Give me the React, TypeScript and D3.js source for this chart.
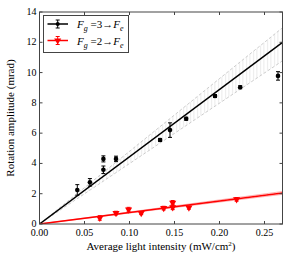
import React from "react";
import * as d3 from "d3";

const blackX = [0.042, 0.056, 0.071, 0.071, 0.085, 0.134, 0.145, 0.163, 0.195, 0.223, 0.265];
const blackY = [2.25, 2.75, 4.3, 3.58, 4.3, 5.55, 6.2, 6.95, 8.45, 9.03, 9.78];
const blackErr = [0.35, 0.25, 0.2, 0.25, 0.18, 0.1, 0.48, 0.1, 0.1, 0.1, 0.28];

const redX = [0.067, 0.085, 0.099, 0.113, 0.138, 0.148, 0.148, 0.166, 0.219];
const redY = [0.4, 0.72, 0.95, 0.72, 1.05, 1.4, 1.1, 1.08, 1.63];
const redErr = [0.15, 0.12, 0.15, 0.1, 0.12, 0.15, 0.15, 0.1, 0.12];

const blackSlope = 44.4;
const blackSlopeLo = 39.9;
const blackSlopeHi = 48.0;
const redSlope = 7.6;
const redSlopeLo = 7.25;
const redSlopeHi = 7.95;

const xTicks = [0.0, 0.05, 0.1, 0.15, 0.2, 0.25];
const yTicks = [0, 2, 4, 6, 8, 10, 12, 14];

const W = 299, H = 260;
const L = 39.5, R = 282.5, T = 12, B = 224;

export default function App() {
  const x = d3.scaleLinear().domain([0, 0.27]).range([L, R]);
  const y = d3.scaleLinear().domain([0, 14]).range([B, T]);
  const xs = [0, 0.27];
  const line = (s: number) => d3.line<number>().x((d) => x(d)).y((d) => y(s * d))(xs) as string;
  const band = (lo: number, hi: number) =>
    `M${x(0)},${y(0)}L${x(0.27)},${y(hi * 0.27)}L${x(0.27)},${y(lo * 0.27)}Z`;
  const tri = d3.symbol().type(d3.symbolTriangle).size(22)();
  const font = "'Liberation Serif', 'Times New Roman', Times, serif";
  const cap = 2;

  const errbar = (cx: number, cy: number, e: number, color: string, key: string) => (
    <g key={key} stroke={color} strokeWidth={1}>
      <line x1={cx} x2={cx} y1={cy - e} y2={cy + e} />
      <line x1={cx - cap} x2={cx + cap} y1={cy - e} y2={cy - e} />
      <line x1={cx - cap} x2={cx + cap} y1={cy + e} y2={cy + e} />
    </g>
  );

  const legendLabel = (n: string, yy: number) => (
    <text x={77} y={yy + 4} style={{ fontFamily: font }} fontSize={11}>
      <tspan fontStyle="italic">F</tspan>
      <tspan fontStyle="italic" fontSize={8} dy={3}>g</tspan>
      <tspan dy={-3}> ={n}→</tspan>
      <tspan fontStyle="italic">F</tspan>
      <tspan fontStyle="italic" fontSize={8} dy={3}>e</tspan>
    </text>
  );

  return (
    <svg width={W} height={H} style={{ position: "fixed", left: 0, top: 0, background: "#fff", fontFamily: font }}>
      <defs>
        <pattern id="hatch" width={3.5} height={6} patternUnits="userSpaceOnUse">
          <line x1={1.5} x2={1.5} y1={0} y2={6} stroke="#d8d8d8" strokeWidth={0.6} />
        </pattern>
        <pattern id="hatchR" width={3.5} height={6} patternUnits="userSpaceOnUse">
          <line x1={1.5} x2={1.5} y1={0} y2={6} stroke="#ffbcbc" strokeWidth={0.6} />
        </pattern>
        <clipPath id="plot">
          <rect x={L} y={T} width={R - L} height={B - T} />
        </clipPath>
      </defs>
      <g clipPath="url(#plot)">
        <path d={band(blackSlopeLo, blackSlopeHi)} fill="url(#hatch)" />
        <path d={line(blackSlopeHi)} stroke="#cccccc" strokeDasharray="3,2" fill="none" />
        <path d={line(blackSlopeLo)} stroke="#cccccc" strokeDasharray="3,2" fill="none" />
        <path d={band(redSlopeLo, redSlopeHi)} fill="url(#hatchR)" />
        <path d={line(redSlopeHi)} stroke="#ffa0a0" strokeWidth={0.8} fill="none" />
        <path d={line(redSlopeLo)} stroke="#ffa0a0" strokeWidth={0.8} fill="none" />
        <path d={line(blackSlope)} stroke="#000" strokeWidth={1.5} fill="none" />
        <path d={line(redSlope)} stroke="#ff0000" strokeWidth={1.5} fill="none" />
        {blackX.map((v, i) => (
          <g key={"b" + i}>
            {errbar(x(v), y(blackY[i]), y(0) - y(blackErr[i]), "#000", "be" + i)}
            <circle cx={x(v)} cy={y(blackY[i])} r={2.3} fill="#000" />
          </g>
        ))}
        {redX.map((v, i) => (
          <g key={"r" + i}>
            {errbar(x(v), y(redY[i]), y(0) - y(redErr[i]), "#ff0000", "re" + i)}
            <path d={tri} transform={`translate(${x(v)},${y(redY[i])}) rotate(180)`} fill="#ff0000" />
          </g>
        ))}
      </g>
      <rect x={L} y={T} width={R - L} height={B - T} fill="none" stroke="#444" strokeWidth={1} />
      {xTicks.map((t) => (
        <g key={"xt" + t}>
          <line x1={x(t)} x2={x(t)} y1={B} y2={B - 3} stroke="#444" />
          <line x1={x(t)} x2={x(t)} y1={T} y2={T + 3} stroke="#444" />
          <text x={x(t)} y={B + 11.5} textAnchor="middle" fontSize={10}>
            {t.toFixed(2)}
          </text>
        </g>
      ))}
      {yTicks.map((t) => (
        <g key={"yt" + t}>
          <line x1={L} x2={L + 3} y1={y(t)} y2={y(t)} stroke="#444" />
          <line x1={R} x2={R - 3} y1={y(t)} y2={y(t)} stroke="#444" />
          <text x={L - 3} y={y(t) + 3} textAnchor="end" fontSize={10}>
            {t}
          </text>
        </g>
      ))}
      <text x={(L + R) / 2} y={250} textAnchor="middle" fontSize={11}>
        Average light intensity (mW/cm<tspan fontSize={7} dy={-4}>2</tspan>
        <tspan dy={4}>)</tspan>
      </text>
      <text transform={`translate(14,${(T + B) / 2}) rotate(-90)`} textAnchor="middle" fontSize={11}>
        Rotation amplitude (mrad)
      </text>
      <rect x={43.5} y={15.5} width={85} height={37} fill="#fff" stroke="#444" strokeWidth={1} />
      <line x1={47.5} x2={68} y1={24} y2={24} stroke="#000" strokeWidth={1.5} />
      {errbar(57.7, 24, 4, "#000", "lb")}
      <circle cx={57.7} cy={24} r={2} fill="#000" />
      {legendLabel("3", 24)}
      <line x1={47.5} x2={68} y1={40.5} y2={40.5} stroke="#ff0000" strokeWidth={1.5} />
      {errbar(57.7, 40.5, 4, "#ff0000", "lr")}
      <path d={tri} transform={`translate(57.7,40.5) rotate(180)`} fill="#ff0000" />
      {legendLabel("2", 40.5)}
    </svg>
  );
}
